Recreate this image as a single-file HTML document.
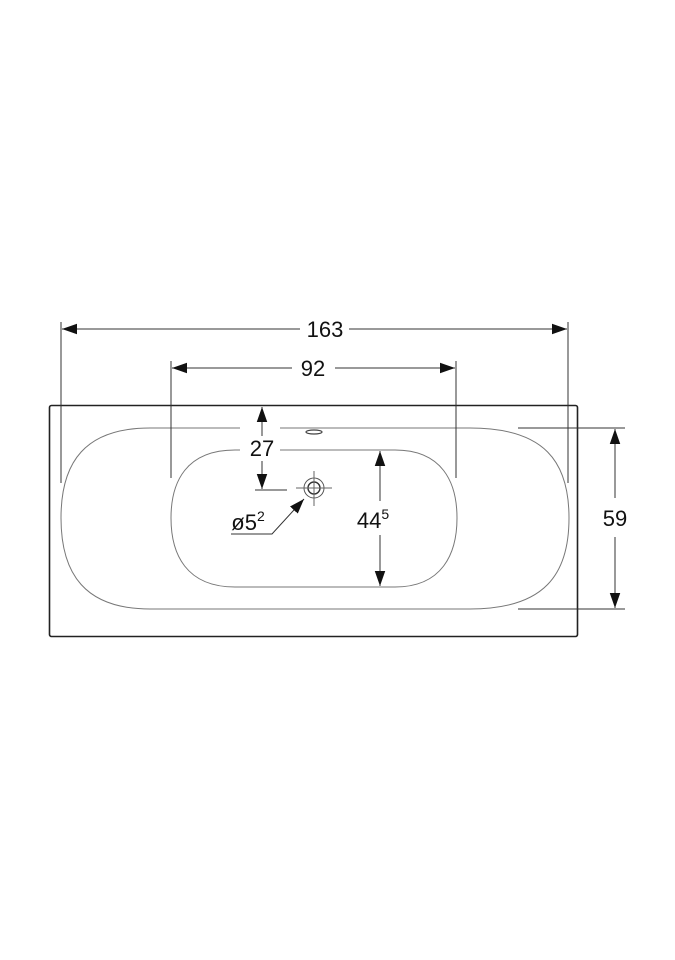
<!DOCTYPE html>
<html><head><meta charset="utf-8"><style>html,body{margin:0;padding:0;background:#fff}svg{display:block}</style></head>
<body>
<svg width="675" height="960" viewBox="0 0 675 960" xmlns="http://www.w3.org/2000/svg" font-family="Liberation Sans, sans-serif">
<defs>
<marker id="a" viewBox="0 0 10 10" refX="10" refY="5" markerWidth="15" markerHeight="15" markerUnits="userSpaceOnUse" orient="auto-start-reverse"><path d="M0,1.5 L10,5 L0,8.5 Z" fill="#111"/></marker>
</defs>
<g fill="none" stroke="#222">
<rect x="49.5" y="405.5" width="528" height="231" rx="2" stroke-width="1.6"/>
<path d="M150 428 L470 428 C545 428 569 462 569 518 C569 574 545 609 470 609 L150 609 C85 609 61 574 61 518 C61 462 85 428 150 428 Z" stroke="#777" stroke-width="1"/>
<path d="M235 450 L395 450 C442 450 457 482 457 518 C457 554 442 587 395 587 L235 587 C186 587 171 554 171 518 C171 482 186 450 235 450 Z" stroke="#777" stroke-width="1"/>
</g>
<rect x="240" y="424" width="40" height="8" fill="#fff"/>
<rect x="240" y="438" width="40" height="20" fill="#fff"/>
<g stroke="#333" stroke-width="1" fill="none">
<line x1="61" y1="322" x2="61" y2="483"/>
<line x1="568" y1="322" x2="568" y2="483"/>
<line x1="62" y1="329" x2="300" y2="329" marker-start="url(#a)"/>
<line x1="349" y1="329" x2="567" y2="329" marker-end="url(#a)"/>
<line x1="171" y1="361" x2="171" y2="478"/>
<line x1="456" y1="361" x2="456" y2="478"/>
<line x1="172" y1="368" x2="292" y2="368" marker-start="url(#a)"/>
<line x1="335" y1="368" x2="455" y2="368" marker-end="url(#a)"/>
<line x1="518" y1="428" x2="625" y2="428"/>
<line x1="518" y1="609" x2="625" y2="609"/>
<line x1="615" y1="429" x2="615" y2="498" marker-start="url(#a)"/>
<line x1="615" y1="537" x2="615" y2="608" marker-end="url(#a)"/>
<line x1="380" y1="451" x2="380" y2="501" marker-start="url(#a)"/>
<line x1="380" y1="535" x2="380" y2="586" marker-end="url(#a)"/>
<line x1="262" y1="407" x2="262" y2="436" marker-start="url(#a)"/>
<line x1="262" y1="461" x2="262" y2="489" marker-end="url(#a)"/>
<line x1="255" y1="490" x2="287" y2="490"/>
<circle cx="314" cy="488" r="10" stroke="#555"/>
<circle cx="314" cy="488" r="6" stroke-width="1.4"/>
<line x1="296" y1="488" x2="332" y2="488" stroke="#666"/>
<line x1="314" y1="471" x2="314" y2="506" stroke="#666"/>
<ellipse cx="314" cy="432" rx="8" ry="2" stroke="#444" stroke-width="1.2"/>
<polyline points="231,534 272,534 304,499" marker-end="url(#a)"/>
</g>
<g fill="#111" font-size="22" text-anchor="middle">
<text x="325" y="337">163</text>
<text x="313" y="376">92</text>
<text x="262" y="456">27</text>
<text x="615" y="526">59</text>
<text x="373" y="528">44<tspan font-size="14" dy="-9">5</tspan></text>
<text x="248" y="530">ø5<tspan font-size="14" dy="-9">2</tspan></text>
</g>
</svg>
</body></html>
